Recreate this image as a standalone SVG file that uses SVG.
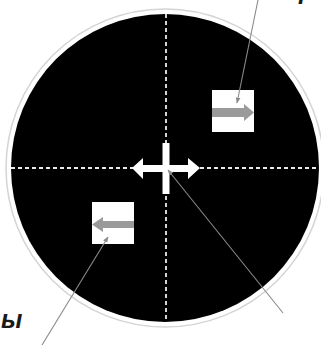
<svg xmlns="http://www.w3.org/2000/svg" width="321" height="345" viewBox="0 0 321 345">
<style>
.dash{stroke:#ebebeb;stroke-width:1.8;stroke-dasharray:4 3;fill:none}
.lead{stroke:#8a8a8a;stroke-width:1.1;fill:none}
.box{fill:#ffffff}
.garrow{fill:#9a9a9a}
.lbl{font-family:"Liberation Sans",Arial,sans-serif;font-style:italic;font-weight:bold;font-size:25px;fill:#1a1a1a}
</style>
<defs>
<marker id="ah" viewBox="0 0 10 10" refX="9" refY="5" markerWidth="6" markerHeight="6" orient="auto" markerUnits="userSpaceOnUse">
<path d="M0,1 L10,5 L0,9 Z" fill="#8a8a8a"/>
</marker>
</defs>
<rect width="321" height="345" fill="#ffffff"/>
<g id="dial">
<circle cx="165" cy="168" r="159" fill="none" stroke="#d4d4d4" stroke-width="1.5"/>
<circle cx="165" cy="168" r="154" fill="#000000"/>
<line class="dash" x1="166" y1="14" x2="166" y2="322"/>
<line class="dash" x1="11" y1="168" x2="319" y2="168"/>
</g>
<g id="cross">
<rect x="162.5" y="143" width="7" height="51" fill="#ffffff"/>
<polygon points="132,168 143,158 143,165 188,165 188,158 200,168 188,179 188,172 143,172 143,179" fill="#ffffff"/>
</g>
<g id="box-right">
<rect class="box" x="212" y="90" width="42" height="42"/>
<polygon class="garrow" points="212,108 244,108 244,104 254,112.5 244,121 244,117 212,117"/>
</g>
<g id="box-left">
<rect class="box" x="92" y="202" width="42" height="42"/>
<polygon class="garrow" points="134,221 103,221 103,217 92,224.5 103,232 103,228 134,228"/>
</g>
<g id="connectors">
<line class="lead" x1="258" y1="0" x2="237" y2="103" marker-end="url(#ah)"/>
<line class="lead" x1="283" y1="313" x2="168" y2="170" marker-end="url(#ah)"/>
<line class="lead" x1="42" y1="345" x2="108" y2="237" marker-end="url(#ah)"/>
</g>
<g id="labels">
<text class="lbl" x="299" y="-1">р</text>
<text class="lbl" x="1" y="328">ы</text>
</g>
</svg>
